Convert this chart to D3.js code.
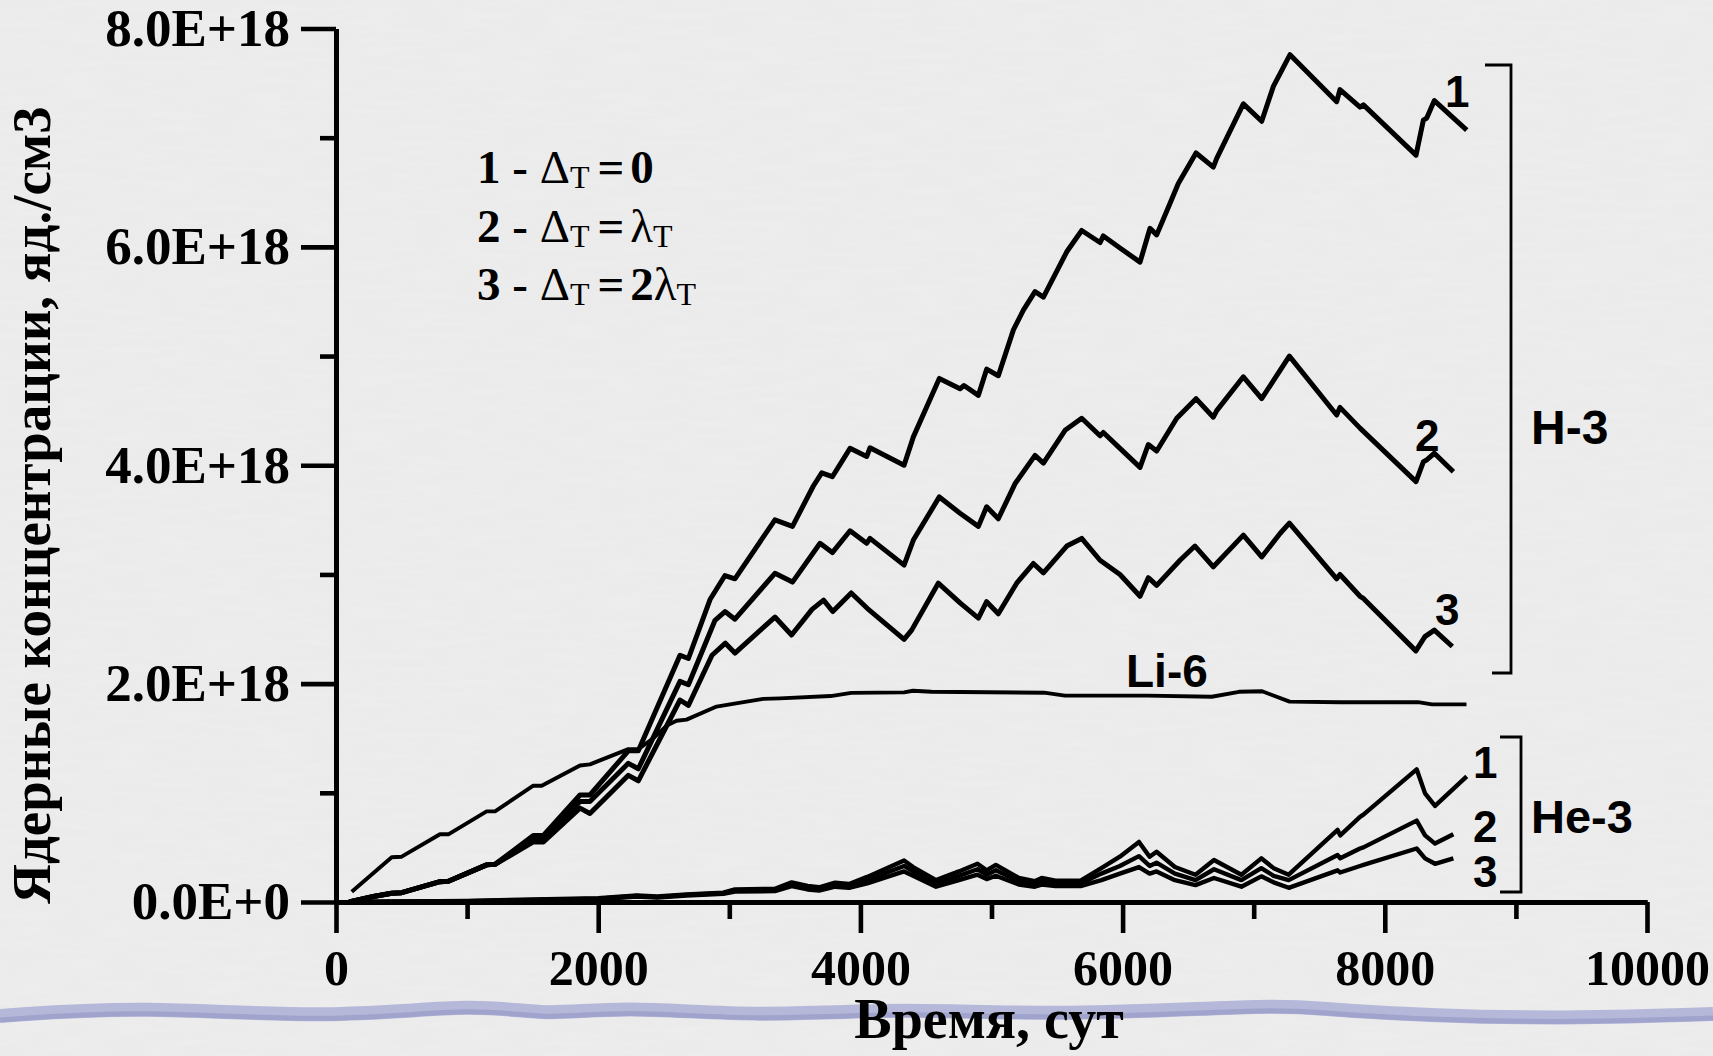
<!DOCTYPE html>
<html>
<head>
<meta charset="utf-8">
<script src="https://cdn.jsdelivr.net/npm/d3@7"></script>
<style>
  body { margin: 0; background: #ececec; }
  svg { display: block; }
</style>
</head>
<body>
<svg id="chart"></svg>
<script>
// values: [time (days), concentration in 1E+18 nuclei/cm3]
const h3_1 = [[100,0],[285,0.05],[425,0.08],[501,0.085],[793,0.186],[857,0.19],[1149,0.34],[1213,0.345],[1505,0.61],[1582,0.61],
  [1861,0.98],[1937,0.98],[2230,1.385],[2306,1.385],[2624,2.26],[2688,2.23],[2853,2.77],[2967,2.99],[3043,2.96],[3348,3.50],
  [3482,3.44],[3641,3.81],[3705,3.93],[3786,3.895],[3921,4.155],[4048,4.08],[4073,4.16],[4333,4.0],[4404,4.26],[4602,4.795],
  [4760,4.70],[4790,4.73],[4900,4.64],[4963,4.88],[5052,4.82],[5167,5.24],[5243,5.42],[5332,5.59],[5396,5.54],[5574,5.955],
  [5688,6.15],[5828,6.04],[5853,6.10],[5980,5.99],[6133,5.86],[6209,6.17],[6260,6.11],[6362,6.40],[6425,6.58],[6560,6.86],
  [6692,6.73],[6718,6.81],[6921,7.31],[7061,7.15],[7150,7.47],[7277,7.76],[7633,7.33],[7658,7.44],[7811,7.28],[7837,7.30],
  [8238,6.84],[8294,7.16],[8320,7.18],[8378,7.34],[8625,7.07]];

const h3_2 = [[100,0],[285,0.05],[425,0.08],[501,0.085],[793,0.186],[857,0.19],[1149,0.34],[1213,0.345],[1505,0.58],[1582,0.58],
  [1861,0.92],[1937,0.92],[2230,1.27],[2306,1.22],[2624,2.02],[2688,1.99],[2891,2.58],[2967,2.66],[3043,2.59],[3348,3.01],
  [3482,2.93],[3692,3.285],[3786,3.2],[3921,3.40],[4048,3.285],[4073,3.33],[4333,3.085],[4404,3.315],[4602,3.71],[4760,3.56],
  [4900,3.44],[4963,3.62],[5052,3.51],[5179,3.83],[5332,4.09],[5396,4.02],[5561,4.32],[5688,4.43],[5828,4.27],[5853,4.30],
  [5980,4.155],[6133,3.98],[6196,4.19],[6260,4.13],[6413,4.43],[6560,4.61],[6692,4.44],[6718,4.50],[6921,4.81],[7061,4.61],
  [7272,5.0],[7633,4.46],[7658,4.53],[7811,4.34],[8238,3.85],[8294,4.03],[8320,4.05],[8378,4.11],[8523,3.94]];

const h3_3 = [[100,0],[285,0.05],[425,0.08],[501,0.085],[793,0.186],[857,0.19],[1149,0.34],[1213,0.345],[1505,0.55],[1582,0.55],
  [1861,0.86],[1937,0.81],[2230,1.16],[2306,1.11],[2624,1.85],[2688,1.80],[2868,2.26],[2970,2.37],[3043,2.28],[3348,2.61],
  [3475,2.445],[3631,2.68],[3719,2.765],[3789,2.66],[3930,2.83],[4052,2.69],[4333,2.405],[4391,2.49],[4594,2.92],[4760,2.74],
  [4900,2.60],[4963,2.75],[5052,2.64],[5192,2.92],[5319,3.10],[5396,3.015],[5574,3.26],[5688,3.33],[5828,3.13],[5980,3.00],
  [6133,2.80],[6196,2.97],[6260,2.90],[6438,3.13],[6552,3.26],[6692,3.07],[6921,3.36],[7061,3.16],[7201,3.375],[7272,3.47],
  [7633,2.96],[7658,3.0],[7811,2.80],[7837,2.78],[8237,2.30],[8306,2.43],[8378,2.49],[8515,2.34]];

const li6 = [[120,0.094],[425,0.41],[501,0.415],[793,0.62],[857,0.62],[1149,0.83],[1213,0.83],[1505,1.065],[1569,1.065],
  [1861,1.25],[1937,1.26],[2230,1.40],[2306,1.40],[2420,1.50],[2527,1.62],[2598,1.66],[2674,1.67],[2903,1.79],[3005,1.81],
  [3259,1.86],[3387,1.865],[3773,1.886],[3930,1.915],[4333,1.92],[4401,1.935],[4542,1.925],[5401,1.917],[5560,1.89],
  [6189,1.89],[6680,1.88],[6888,1.925],[7064,1.93],[7274,1.835],[7658,1.83],[8253,1.83],[8360,1.81],[8623,1.81]];

const he3_1 = [[100,0],[1000,0.01],[2000,0.035],[2294,0.06],[2450,0.05],[2674,0.07],[2954,0.085],[3043,0.115],[3348,0.12],
  [3476,0.18],[3597,0.147],[3685,0.135],[3807,0.177],[3913,0.165],[4052,0.23],[4333,0.38],[4402,0.32],[4577,0.20],[4752,0.28],
  [4893,0.35],[4963,0.29],[5033,0.34],[5208,0.22],[5330,0.19],[5383,0.22],[5488,0.195],[5680,0.195],[5838,0.31],[5979,0.415],
  [6125,0.55],[6206,0.415],[6259,0.46],[6399,0.32],[6556,0.25],[6697,0.385],[6906,0.25],[7058,0.40],[7152,0.31],[7267,0.25],
  [7640,0.66],[7660,0.61],[7811,0.78],[7837,0.80],[8243,1.215],[8307,0.995],[8383,0.88],[8625,1.15]];

const he3_2 = [[100,0],[1000,0.008],[2000,0.03],[2294,0.055],[2450,0.045],[2674,0.065],[2954,0.08],[3043,0.105],[3348,0.11],
  [3476,0.16],[3597,0.13],[3685,0.12],[3807,0.155],[3913,0.145],[4052,0.2],[4333,0.33],[4402,0.28],[4577,0.17],[4752,0.24],
  [4893,0.30],[4963,0.25],[5033,0.29],[5208,0.19],[5330,0.165],[5383,0.19],[5488,0.17],[5680,0.17],[5838,0.26],[5979,0.33],
  [6125,0.42],[6206,0.33],[6259,0.36],[6399,0.26],[6556,0.20],[6697,0.30],[6906,0.20],[7058,0.31],[7152,0.24],[7267,0.20],
  [7640,0.43],[7660,0.40],[7811,0.49],[7837,0.50],[8243,0.745],[8307,0.61],[8383,0.535],[8523,0.62]];

const he3_3 = [[100,0],[1000,0.006],[2000,0.025],[2294,0.05],[2450,0.04],[2674,0.06],[2954,0.075],[3043,0.095],[3348,0.10],
  [3476,0.145],[3597,0.115],[3685,0.105],[3807,0.14],[3913,0.13],[4052,0.17],[4333,0.28],[4402,0.24],[4577,0.14],[4752,0.20],
  [4893,0.25],[4963,0.21],[5033,0.24],[5208,0.16],[5330,0.14],[5383,0.16],[5488,0.145],[5680,0.145],[5838,0.20],[5979,0.26],
  [6125,0.32],[6206,0.26],[6259,0.28],[6399,0.20],[6556,0.155],[6697,0.22],[6906,0.14],[7058,0.235],[7152,0.18],[7267,0.13],
  [7640,0.29],[7660,0.27],[7811,0.33],[7837,0.34],[8243,0.49],[8307,0.40],[8383,0.35],[8523,0.40]];

const xMajorTicks = [0, 2000, 4000, 6000, 8000, 10000];
const xMinorTicks = [1000, 3000, 5000, 7000, 9000];
const yMajorTicks = [0, 2, 4, 6, 8];
const yMinorTicks = [1, 3, 5, 7];
const yTickLabels = ["0.0E+0", "2.0E+18", "4.0E+18", "6.0E+18", "8.0E+18"];
const xTitle = "Время, сут";
const yTitle = "Ядерные концентрации, яд./см3";

const width = 1713;
const height = 1056;
const serif = "'Liberation Serif', 'Times New Roman', serif";
const sans = "'Liberation Sans', Arial, sans-serif";

const svg = d3.select("#chart").attr("width", width).attr("height", height);

// --- background (paper look) ---
const defs = svg.append("defs");
const paper = defs.append("filter").attr("id", "paper").attr("x", 0).attr("y", 0).attr("width", "100%").attr("height", "100%");
paper.append("feTurbulence").attr("type", "fractalNoise").attr("baseFrequency", "0.02 0.15").attr("numOctaves", 3).attr("seed", 4);
paper.append("feColorMatrix").attr("type", "matrix")
  .attr("values", "0 0 0 0 1  0 0 0 0 1  0 0 0 0 1  0 0 0 0.9 -0.35");

svg.append("rect").attr("width", width).attr("height", height).attr("fill", "#ebebeb");
svg.append("rect").attr("width", width).attr("height", height).attr("filter", "url(#paper)").attr("opacity", 0.25);

// wavy band of the slide template
const wave = [[0,1016],[140,1006],[330,1019],[480,1003],[545,1016],[620,1006],[760,1017],[900,1008],[1060,1016],[1290,1004],
  [1320,1010],[1530,1020],[1713,1014]];
const waveLine = d3.line().curve(d3.curveBasis);
svg.append("path").attr("d", waveLine(wave)).attr("fill", "none").attr("stroke", "#b6b8da").attr("stroke-width", 14);
svg.append("path").attr("d", waveLine(wave.map(p => [p[0], p[1] + 4]))).attr("fill", "none").attr("stroke", "#a0a3cb").attr("stroke-width", 5);

// --- scales ---
const x = d3.scaleLinear().domain([0, 10000]).range([336, 1647]);
const y = d3.scaleLinear().domain([0, 8]).range([902, 28.5]);

// --- axes ---
const styleAxis = (g) => {
  g.select(".domain").attr("stroke", "#000").attr("stroke-width", 5);
  g.selectAll(".tick line").attr("stroke", "#000").attr("stroke-width", 4.6);
};

svg.append("g").attr("transform", `translate(${x(0)},0)`)
  .call(d3.axisLeft(y).tickValues(yMinorTicks).tickSize(16).tickSizeOuter(0).tickFormat(""))
  .call(styleAxis);
svg.append("g").attr("transform", `translate(0,${y(0)})`)
  .call(d3.axisBottom(x).tickValues(xMinorTicks).tickSize(17).tickSizeOuter(0).tickFormat(""))
  .call(styleAxis);

const yAxisG = svg.append("g").attr("transform", `translate(${x(0)},0)`)
  .call(d3.axisLeft(y).tickValues(yMajorTicks).tickSize(35).tickSizeOuter(0).tickPadding(11)
    .tickFormat((d, i) => yTickLabels[i]))
  .call(styleAxis);
yAxisG.selectAll("text").attr("font-family", serif).attr("font-weight", "bold").attr("font-size", 53).attr("fill", "#000");

const xAxisG = svg.append("g").attr("transform", `translate(0,${y(0)})`)
  .call(d3.axisBottom(x).tickValues(xMajorTicks).tickSize(31).tickSizeOuter(0).tickPadding(16).tickFormat(d3.format("d")))
  .call(styleAxis);
xAxisG.selectAll("text").attr("font-family", serif).attr("font-weight", "bold").attr("font-size", 50).attr("fill", "#000");

// --- titles ---
svg.append("text").attr("x", 989).attr("y", 1038).attr("text-anchor", "middle")
  .attr("font-family", serif).attr("font-weight", "bold").attr("font-size", 56).text(xTitle);
svg.append("text").attr("transform", "translate(50,505) rotate(-90)").attr("text-anchor", "middle")
  .attr("font-family", serif).attr("font-weight", "bold").attr("font-size", 55).text(yTitle);

// --- curves ---
const line = d3.line().x(d => x(d[0])).y(d => y(d[1]));
const series = [
  { data: li6, w: 3.9 },
  { data: he3_3, w: 4.4 },
  { data: he3_2, w: 4.4 },
  { data: he3_1, w: 4.4 },
  { data: h3_3, w: 5 },
  { data: h3_2, w: 5 },
  { data: h3_1, w: 5 },
];
svg.append("g").selectAll("path").data(series).join("path")
  .attr("d", d => line(d.data))
  .attr("fill", "none").attr("stroke", "#000")
  .attr("stroke-width", d => d.w)
  .attr("stroke-linejoin", "round").attr("stroke-linecap", "butt");

// --- legend ---
const legendRows = [
  { num: "1", rhs: [{ t: "0", b: true }] },
  { num: "2", rhs: [{ t: "λ", b: false }, { t: "T", sub: true }] },
  { num: "3", rhs: [{ t: "2", b: true }, { t: "λ", b: false }, { t: "T", sub: true }] },
];
legendRows.forEach((row, i) => {
  const t = svg.append("text").attr("x", 477).attr("y", 183 + i * 58.5)
    .attr("font-family", serif).attr("font-size", 47).attr("fill", "#000");
  t.append("tspan").attr("font-weight", "bold").text(row.num + " - ");
  t.append("tspan").text("Δ");
  t.append("tspan").attr("font-size", 32).attr("dy", 5).text("T");
  t.append("tspan").attr("dy", -5).attr("dx", 8).attr("font-weight", "bold").text("=");
  let first = true;
  row.rhs.forEach(p => {
    const s = t.append("tspan").text(p.t);
    if (first) s.attr("dx", 6);
    first = false;
    if (p.b) s.attr("font-weight", "bold");
    if (p.sub) s.attr("font-size", 32).attr("dy", 5);
  });
});

// --- curve labels and brackets ---
const labels = [
  { t: "1", x: 1445, y: 107, s: 44 },
  { t: "2", x: 1415, y: 451, s: 44 },
  { t: "3", x: 1435, y: 625, s: 44 },
  { t: "H-3", x: 1531, y: 444, s: 48 },
  { t: "Li-6", x: 1126, y: 687, s: 46 },
  { t: "1", x: 1473, y: 778, s: 44 },
  { t: "2", x: 1473, y: 842, s: 44 },
  { t: "3", x: 1473, y: 887, s: 44 },
  { t: "He-3", x: 1531, y: 833, s: 47 },
];
svg.append("g").selectAll("text").data(labels).join("text")
  .attr("x", d => d.x).attr("y", d => d.y)
  .attr("font-family", sans).attr("font-weight", "bold").attr("font-size", d => d.s)
  .text(d => d.t);

const brackets = [
  [[1485, 65], [1511, 65], [1511, 673], [1492, 673]],
  [[1500, 737], [1521, 737], [1521, 892], [1500, 892]],
];
svg.append("g").selectAll("path").data(brackets).join("path")
  .attr("d", d3.line())
  .attr("fill", "none").attr("stroke", "#000").attr("stroke-width", 2.8);
</script>
</body>
</html>
